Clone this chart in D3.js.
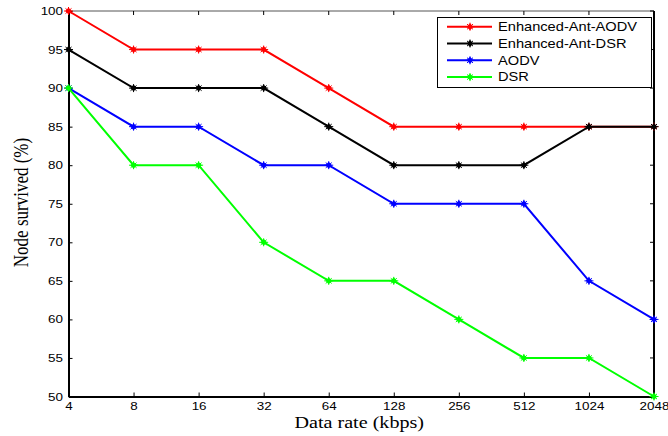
<!DOCTYPE html>
<html><head><meta charset="utf-8">
<script src="https://cdn.jsdelivr.net/npm/d3@7"></script>
<style>body{margin:0;background:#fff}svg{display:block}</style>
</head><body>
<svg id="c" width="668" height="436"></svg>
<script>
const categories = ["4","8","16","32","64","128","256","512","1024","2048"];
const seriesNames = ["Enhanced-Ant-AODV","Enhanced-Ant-DSR","AODV","DSR"];
const seriesColors = ["#ff0000","#000000","#0000ff","#00ff00"];
const enhancedAntAODV = [100,95,95,95,90,85,85,85,85,85];
const enhancedAntDSR = [95,90,90,90,85,80,80,80,85,85];
const aodv = [90,85,85,80,80,75,75,75,65,60];
const dsr = [90,80,80,70,65,65,60,55,55,50];
const yTicks = [50,55,60,65,70,75,80,85,90,95,100];
const seriesValues = [enhancedAntAODV, enhancedAntDSR, aodv, dsr];

const SX = 1.22; // horizontal stretch of the original figure's text
const sans = "Liberation Sans, Arial, sans-serif";
const serif = "Liberation Serif, Times New Roman, serif";

const svg = d3.select("#c");
const L = 68.5, R = 654, T = 11, B = 396.5;
const x = d3.scalePoint().domain(categories).range([L, R]);
const y = d3.scaleLinear().domain([50,100]).range([B, T]);

// axes box
svg.append("line").attr("x1",L).attr("x2",R).attr("y1",T).attr("y2",T).attr("stroke","#555").attr("stroke-width",1);
svg.append("line").attr("x1",R).attr("x2",R).attr("y1",T).attr("y2",B).attr("stroke","#000").attr("stroke-width",2);

const xAxis = d3.axisBottom(x).tickSizeInner(-4).tickSizeOuter(0).tickPadding(5);
const gx = svg.append("g").attr("transform",`translate(0,${B})`).call(xAxis);
const yAxis = d3.axisLeft(y).tickValues(yTicks).tickSizeInner(-4).tickSizeOuter(0).tickPadding(4.5);
const gy = svg.append("g").attr("transform",`translate(${L},0)`).call(yAxis);
[gx,gy].forEach(a=>{
  a.select(".domain").attr("stroke","#000").attr("stroke-width",2);
  a.selectAll(".tick line").attr("stroke","#000").attr("stroke-width",1);
  a.selectAll("text").attr("font-family",sans).attr("font-size",11).attr("fill","#000")
    .attr("transform",`scale(${SX},1)`);
});
gx.selectAll("text").attr("dy","0.75em");
// top and right ticks
svg.append("g").selectAll("line").data(categories).join("line")
  .attr("x1",d=>x(d)).attr("x2",d=>x(d)).attr("y1",T).attr("y2",T+4).attr("stroke","#000");
svg.append("g").selectAll("line").data(yTicks).join("line")
  .attr("x1",R-4).attr("x2",R).attr("y1",d=>y(d)).attr("y2",d=>y(d)).attr("stroke","#000");

const line = d3.line().x((d,i)=>x(categories[i])).y(d=>y(d));
function marker(sel, color){
  sel.append("path").attr("d","M0,-3.5L3.2,0L0,3.5L-3.2,0Z").attr("fill",color);
  sel.append("path").attr("d","M-4.5,0H4.5M0,-4V4M-3,-2.6L3,2.6M-3,2.6L3,-2.6").attr("stroke",color).attr("stroke-width",1);
}
seriesValues.forEach((vals,si)=>{
  const c = seriesColors[si];
  svg.append("path").datum(vals).attr("d",line).attr("fill","none").attr("stroke",c).attr("stroke-width",2);
  vals.forEach((v,i)=>{
    const m = svg.append("g").attr("transform",`translate(${x(categories[i])},${y(v)})`);
    marker(m,c);
  });
});

// legend
const lg = svg.append("g");
lg.append("rect").attr("x",437.5).attr("y",17.5).attr("width",214).attr("height",70).attr("fill","#fff").attr("stroke","#000").attr("stroke-width",1);
seriesNames.forEach((n,i)=>{
  const yy = 26.7 + i*16.8;
  lg.append("line").attr("x1",447).attr("x2",492).attr("y1",yy).attr("y2",yy).attr("stroke",seriesColors[i]).attr("stroke-width",2);
  marker(lg.append("g").attr("transform",`translate(470,${yy})`), seriesColors[i]);
  lg.append("text").attr("transform",`translate(498,${yy}) scale(${SX},1)`).attr("dy","0.36em").text(n)
    .attr("font-family",sans).attr("font-size",12).attr("fill","#000");
});

// axis titles
svg.append("text").attr("transform",`translate(${(L+R)/2 - 2},428) scale(${SX},1)`).attr("text-anchor","middle")
  .attr("font-family",serif).attr("font-size",16.5).text("Data rate (kbps)");
svg.append("text").attr("transform",`translate(28,202.5) scale(${SX},1) rotate(-90)`).attr("text-anchor","middle")
  .attr("font-family",serif).attr("font-size",17).text("Node survived (%)");
</script>
</body></html>
